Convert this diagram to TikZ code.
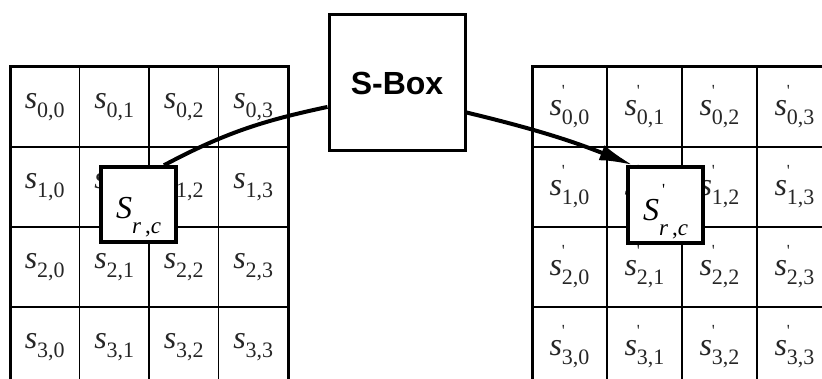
\documentclass[tikz,border=0pt]{standalone}
\usepackage{fontspec}
\setmainfont{Liberation Serif}
\newfontfamily\boxfont{Liberation Sans}
\usetikzlibrary{arrows.meta}

\newcommand{\sv}[1]{{\fontsize{32}{32}\selectfont\textit{s}}\raisebox{-9pt}{\fontsize{22}{22}\selectfont #1}}
\newcommand{\svp}[1]{{\fontsize{32}{32}\selectfont\textit{s}}\rlap{\raisebox{19pt}{\fontsize{17}{17}\selectfont\textquotesingle}}\raisebox{-9pt}{\fontsize{22}{22}\selectfont #1}}
\newcommand{\Src}[1]{{\fontsize{32}{32}\selectfont\textit{S}}#1\raisebox{-15pt}{\fontsize{23}{23}\selectfont\textit{r}\hspace{4pt},\textit{c}}}
\newcommand{\Sprime}{\rlap{\hspace{3pt}\raisebox{25pt}{\fontsize{17}{17}\selectfont\textquotesingle}}}

\begin{document}
\begin{tikzpicture}[x=1pt,y=1pt,
  cellbox/.style={draw,line width=1.3pt,minimum width=#1,minimum height=80pt,inner sep=0pt,outer sep=0pt,text=black!85},
  srcbox/.style={draw,fill=white,line width=3.5pt,minimum size=75pt,inner sep=0pt},
  conn/.style={line width=4pt}]
\useasboundingbox (0,0) rectangle (822,-379);
\clip (0,0) rectangle (822,-379);
% input state
\foreach \r in {0,...,3} \foreach \c in {0,...,3}
  \node[cellbox=69.5pt] (L\r\c) at (44.75+69.5*\c,-107-80*\r) {\sv{\r,\c}};
\draw[line width=3pt] (L00.north west) rectangle (L33.south east);
% output state
\foreach \r in {0,...,3} \foreach \c in {0,...,3}
  \node[cellbox=75pt] (R\r\c) at (569.5+75*\c,-107-80*\r) {\svp{\r,\c}};
\draw[line width=3pt] (R00.north west) rectangle (R33.south east);
\node[srcbox] (lbox) at (138.5,-204.5) {};
\node[inner sep=0pt] (ltext) at ([yshift=-12.5pt]lbox.center) {\Src{}};
\node[srcbox,minimum height=76pt] (rbox) at (665.5,-205) {};
\node[inner sep=0pt] (rtext) at ([yshift=-6.5pt]rbox.center) {\Src{\Sprime}};
\node[draw,line width=3pt,minimum size=136pt,font=\boxfont\bfseries\fontsize{32}{32}\selectfont] (sbox) at (397,-83) {S-Box};
\draw[conn] (lbox.57) to[out=28,in=192] (sbox.199);
\draw[conn,-{Latex[length=34pt,width=16pt]}] (sbox.337) to[bend left=4] (rbox.129);
\end{tikzpicture}
\end{document}
